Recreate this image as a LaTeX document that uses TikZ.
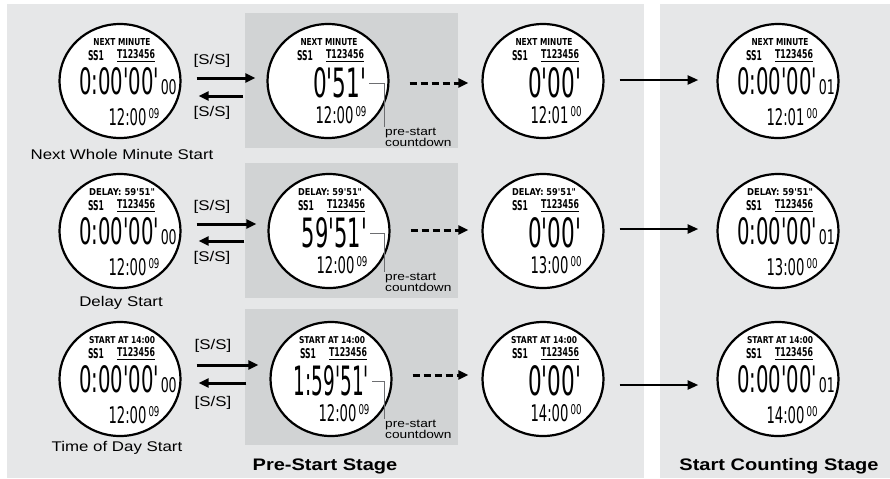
\documentclass[tikz,border=0pt]{standalone}
\usepackage{fontspec}
\usepackage{graphicx}
\usetikzlibrary{shapes.geometric, arrows.meta}
\setmainfont{Liberation Sans}[FakeStretch=1.2]
\newfontfamily\lcdfont{DejaVu Sans}

\definecolor{PanelGray}{HTML}{E6E7E8}
\definecolor{StageGray}{HTML}{D1D3D4}
\definecolor{NoteGray}{HTML}{6D6E71}

\newlength{\px}
\setlength{\px}{0.02cm}

\newcommand{\lcd}[3]{\resizebox{#1\px}{#2\px}{\lcdfont\bfseries #3}}
\newcommand{\lcdthin}[3]{\resizebox{#1\px}{#2\px}{\lcdfont #3}}

\tikzset{
    dial/.style={
        ellipse,
        draw=black,
        fill=white,
        line width=2.2\px,
        minimum width=121\px,
        minimum height=114\px,
        inner sep=0pt
    },
    lcdtext/.style={
        inner sep=0pt,
        outer sep=0pt
    },
    ssarrow/.style={
        line width=3\px,
        -{Triangle[length=5.7pt, width=5.1pt]}
    },
    waitarrow/.style={
        line width=3\px,
        dash pattern=on 7\px off 4\px,
        -{Triangle[length=5.7pt, width=5.1pt]}
    },
    goarrow/.style={
        line width=2.6\px,
        -{Triangle[length=6.2pt, width=5.1pt]}
    },
    sslabel/.style={
        font=\fontsize{8}{9.6}\selectfont,
        inner sep=0pt
    },
    caption/.style={
        font=\fontsize{8}{9.6}\selectfont,
        inner sep=0pt
    },
    note/.style={
        font=\fontsize{6.5}{6.3}\selectfont,
        align=left,
        anchor=north west,
        inner sep=0.5pt
    },
    callout/.style={
        draw=NoteGray,
        line width=0.8\px
    },
    stage/.style={
        font=\fontsize{9.5}{11}\selectfont\bfseries,
        inner sep=0pt
    }
}

% running display: name, x, y, header, header width, clock, clock seconds, hundredths
\newcommand{\runwatch}[8]{%
    \node[dial] (#1) at (#2,#3) {};
    \node[lcdtext] (#1-head) at ([shift={(2,-38.5)}]#1) {\lcd{#5}{7}{#4}};
    \node[lcdtext] (#1-ss) at ([shift={(-24,-25)}]#1) {\lcd{16}{10}{SS1}};
    \node[lcdtext] (#1-tr) at ([shift={(16,-25)}]#1) {\underline{\lcd{38}{9}{T123456}}};
    \node[lcdtext] (#1-big) at ([shift={(8,0)}]#1) {\lcdthin{80}{27}{0:00'00'}\hspace{1.5\px}\lcdthin{16}{15}{#8}};
    \node[lcdtext] (#1-clock) at ([shift={(14,36)}]#1) {\lcdthin{38}{17}{#6}\hspace{2\px}\raisebox{7\px}{\lcdthin{11}{10}{#7}}};
}

% countdown display: name, x, y, header, header width, count, count width, clock, clock seconds
\newcommand{\cdwatch}[9]{%
    \node[dial] (#1) at (#2,#3) {};
    \node[lcdtext] (#1-head) at ([shift={(1,-38.5)}]#1) {\lcd{#5}{7}{#4}};
    \node[lcdtext] (#1-ss) at ([shift={(-23,-25)}]#1) {\lcd{16}{10}{SS1}};
    \node[lcdtext] (#1-tr) at ([shift={(17,-25)}]#1) {\underline{\lcd{38}{9}{T123456}}};
    \node[lcdtext, anchor=east] (#1-big) at ([shift={(38,2)}]#1) {\lcdthin{#7}{30}{#6}};
    \node[lcdtext] (#1-clock) at ([shift={(13,34)}]#1) {\lcdthin{38}{17}{#8}\hspace{2\px}\raisebox{7\px}{\lcdthin{11}{10}{#9}}};
}

\begin{document}
\begin{tikzpicture}[x=\px, y=-\px]
    \useasboundingbox (0,0) rectangle (890,478);

    % stage panels
    \fill[PanelGray] (7,4) rectangle (644,478);
    \fill[PanelGray] (660,4) rectangle (890,478);
    \fill[StageGray] (245,13) rectangle (458,148);
    \fill[StageGray] (245,163) rectangle (458,298);
    \fill[StageGray] (245,309) rectangle (458,445);

    % next whole minute start
    \runwatch{w11}{120}{81}{NEXT MINUTE}{57}{12:00}{09}{00}
    \cdwatch{w12}{328}{81}{NEXT MINUTE}{57}{0'51'}{53}{12:00}{09}
    \cdwatch{w13}{543}{81}{NEXT MINUTE}{57}{0'00'}{53}{12:01}{00}
    \runwatch{w14}{778}{81}{NEXT MINUTE}{57}{12:01}{00}{01}

    \node[caption] (cap1) at (122,154) {Next Whole Minute Start};
    \node[sslabel] (ss1a) at (212,61) {[S/S]};
    \node[sslabel] (ss1b) at (212,113) {[S/S]};
    \node[note] (n12) at (384,127) {pre-start\\countdown};

    \draw[ssarrow, shorten <=15\px, shorten >=11\px] ([shift={(0,-3)}]w11.east) -- ([shift={(0,-3)}]w12.west);
    \draw[ssarrow, shorten <=23\px, shorten >=17\px] ([shift={(0,15)}]w12.west) -- ([shift={(0,15)}]w11.east);
    \draw[waitarrow, shorten <=20\px, shorten >=13\px] ([shift={(0,2)}]w12.east) -- ([shift={(0,2)}]w13.west);
    \draw[goarrow, shorten <=15\px, shorten >=18\px] ([shift={(0,-1)}]w13.east) -- ([shift={(0,-1)}]w14.west);
    \draw[callout] ([xshift=3\px]w12-big.east) -| (n12.north west);

    % delay start
    \runwatch{w21}{120}{231}{DELAY: 59'51"}{66}{12:00}{09}{00}
    \cdwatch{w22}{329}{231}{DELAY: 59'51"}{64}{59'51'}{65}{12:00}{09}
    \cdwatch{w23}{543}{231}{DELAY: 59'51"}{64}{0'00'}{53}{13:00}{00}
    \runwatch{w24}{778}{231}{DELAY: 59'51"}{66}{13:00}{00}{01}

    \node[caption] (cap2) at (121,303) {Delay Start};
    \node[sslabel] (ss2a) at (212,207) {[S/S]};
    \node[sslabel] (ss2b) at (212,258) {[S/S]};
    \node[note] (n22) at (384,272) {pre-start\\countdown};

    \draw[ssarrow, shorten <=15\px, shorten >=11\px] ([shift={(0,-7)}]w21.east) -- ([shift={(0,-7)}]w22.west);
    \draw[ssarrow, shorten <=23\px, shorten >=17\px] ([shift={(0,10)}]w22.west) -- ([shift={(0,10)}]w21.east);
    \draw[waitarrow, shorten <=20\px, shorten >=13\px] ([shift={(0,-1)}]w22.east) -- ([shift={(0,-1)}]w23.west);
    \draw[goarrow, shorten <=15\px, shorten >=18\px] ([shift={(0,-2)}]w23.east) -- ([shift={(0,-2)}]w24.west);
    \draw[callout] ([xshift=3\px]w22-big.east) -| (n22.north west);

    % time of day start
    \runwatch{w31}{120}{379}{START AT 14:00}{66}{12:00}{09}{00}
    \cdwatch{w32}{331}{379}{START AT 14:00}{66}{1:59'51'}{75}{12:00}{09}
    \cdwatch{w33}{543}{379}{START AT 14:00}{66}{0'00'}{53}{14:00}{00}
    \runwatch{w34}{778}{379}{START AT 14:00}{66}{14:00}{00}{01}

    \node[caption] (cap3) at (117,448) {Time of Day Start};
    \node[sslabel] (ss3a) at (213,346) {[S/S]};
    \node[sslabel] (ss3b) at (213,403) {[S/S]};
    \node[note] (n32) at (384,419) {pre-start\\countdown};

    \draw[ssarrow, shorten <=15\px, shorten >=11\px] ([shift={(0,-14)}]w31.east) -- ([shift={(0,-14)}]w32.west);
    \draw[ssarrow, shorten <=23\px, shorten >=17\px] ([shift={(0,4)}]w32.west) -- ([shift={(0,4)}]w31.east);
    \draw[waitarrow, shorten <=20\px, shorten >=13\px] ([shift={(0,-4)}]w32.east) -- ([shift={(0,-4)}]w33.west);
    \draw[goarrow, shorten <=15\px, shorten >=18\px] ([shift={(0,6)}]w33.east) -- ([shift={(0,6)}]w34.west);
    \draw[callout] ([xshift=3\px]w32-big.east) -| (n32.north west);

    % stage titles
    \node[stage] (prestage) at (325,466) {Pre-Start Stage};
    \node[stage] (countstage) at (779,466) {Start Counting Stage};
\end{tikzpicture}
\end{document}
